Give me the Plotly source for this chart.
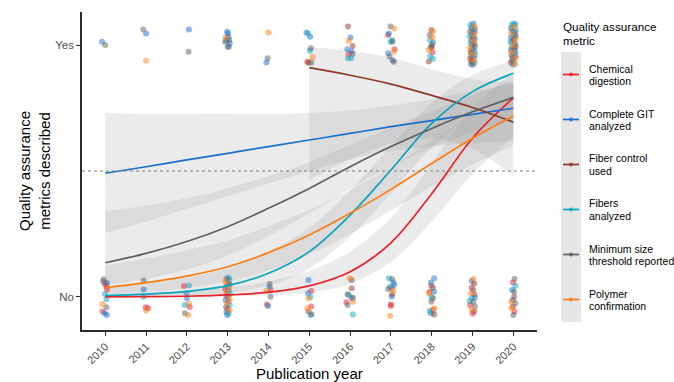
import plotly.graph_objects as go

# ---------------- data ----------------
YEARS = list(range(2010, 2021))
YEAR_LABELS = [str(y) for y in YEARS]
OUTCOME_VALUES = [0, 1]
OUTCOME_LABELS = ["No", "Yes"]
THRESHOLD = 0.5

METRIC_NAMES = [
    "Chemical digestion",
    "Complete GIT analyzed",
    "Fiber control used",
    "Fibers analyzed",
    "Minimum size threshold reported",
    "Polymer confirmation",
]
METRIC_CODES = ["C", "G", "F", "A", "M", "P"]
LEGEND_LINES = [
    ["Chemical", "digestion"],
    ["Complete GIT", "analyzed"],
    ["Fiber control", "used"],
    ["Fibers", "analyzed"],
    ["Minimum size", "threshold reported"],
    ["Polymer", "confirmation"],
]
COLORS = ["#e8222a", "#1a6fce", "#8b3a2a", "#0aa4bf", "#5f5f5f", "#fb7d12"]

# fitted probability of a metric being described, with confidence limits
fit_chem = [0.0005, 0.0012, 0.003, 0.008, 0.019, 0.044, 0.100, 0.215, 0.410, 0.630, 0.790]
lo_chem = [0.0000, 0.0001, 0.0004, 0.0017, 0.0057, 0.018, 0.053, 0.140, 0.300, 0.488, 0.639]
hi_chem = [0.0067, 0.011, 0.020, 0.037, 0.062, 0.103, 0.180, 0.314, 0.529, 0.752, 0.888]

fit_git = [0.491, 0.517, 0.544, 0.570, 0.597, 0.623, 0.649, 0.676, 0.700, 0.725, 0.749]
lo_git = [0.255, 0.300, 0.350, 0.400, 0.450, 0.500, 0.546, 0.578, 0.598, 0.610, 0.620]
hi_git = [0.730, 0.725, 0.726, 0.727, 0.725, 0.730, 0.740, 0.760, 0.785, 0.816, 0.844]

years_fctrl = [2015, 2016, 2017, 2018, 2019, 2020]
fit_fctrl = [0.910, 0.880, 0.845, 0.800, 0.752, 0.694]
lo_fctrl = [0.465, 0.547, 0.610, 0.631, 0.589, 0.480]
hi_fctrl = [0.992, 0.978, 0.950, 0.904, 0.865, 0.848]

fit_fib = [0.006, 0.011, 0.022, 0.045, 0.094, 0.180, 0.325, 0.504, 0.689, 0.815, 0.888]
lo_fib = [0.0009, 0.0022, 0.006, 0.017, 0.046, 0.112, 0.240, 0.410, 0.593, 0.723, 0.805]
hi_fib = [0.039, 0.052, 0.076, 0.113, 0.180, 0.275, 0.423, 0.598, 0.771, 0.881, 0.938]

fit_size = [0.136, 0.173, 0.220, 0.279, 0.352, 0.431, 0.517, 0.597, 0.669, 0.735, 0.792]
lo_size = [0.046, 0.072, 0.109, 0.165, 0.242, 0.332, 0.430, 0.518, 0.592, 0.655, 0.707]
hi_size = [0.341, 0.363, 0.392, 0.431, 0.480, 0.535, 0.603, 0.671, 0.737, 0.802, 0.858]

fit_poly = [0.037, 0.057, 0.083, 0.120, 0.176, 0.246, 0.332, 0.427, 0.530, 0.630, 0.718]
lo_poly = [0.010, 0.020, 0.035, 0.061, 0.105, 0.168, 0.250, 0.342, 0.438, 0.525, 0.600]
hi_poly = [0.124, 0.153, 0.185, 0.224, 0.281, 0.345, 0.426, 0.516, 0.620, 0.723, 0.810]

FITS = {
    "C": (YEARS, fit_chem, lo_chem, hi_chem),
    "G": (YEARS, fit_git, lo_git, hi_git),
    "F": (years_fctrl, fit_fctrl, lo_fctrl, hi_fctrl),
    "A": (YEARS, fit_fib, lo_fib, hi_fib),
    "M": (YEARS, fit_size, lo_size, hi_size),
    "P": (YEARS, fit_poly, lo_poly, hi_poly),
}

# individual studies (jittered): (metric code, year offset, outcome offset)
studies_yes = {
    2010: [("G", -0.08, 0.013), ("M", 0.00, 0.000)],
    2011: [("M", -0.07, 0.062), ("G", 0.00, 0.046), ("P", 0.00, -0.062)],
    2012: [("G", 0.05, 0.062), ("M", 0.04, -0.027)],
    2013: [("G", -0.01, 0.053), ("G", 0.00, 0.046), ("G", 0.02, 0.033), ("G", -0.03, 0.020),
           ("G", 0.05, 0.007), ("G", 0.00, -0.007), ("M", -0.06, 0.013), ("M", 0.04, 0.020),
           ("M", 0.03, -0.007), ("P", -0.05, 0.030)],
    2014: [("P", 0.00, 0.050), ("M", -0.02, -0.053), ("G", -0.05, -0.069)],
    2015: [("G", -0.07, 0.050), ("A", -0.03, 0.046), ("G", 0.02, 0.033), ("M", 0.04, -0.013),
           ("A", 0.01, -0.023), ("C", -0.05, -0.066), ("P", 0.08, -0.049), ("M", 0.05, -0.069),
           ("F", -0.02, -0.070)],
    2016: [("F", -0.05, 0.073), ("G", 0.01, 0.030), ("P", -0.03, 0.017), ("F", 0.06, -0.004),
           ("G", -0.07, -0.017), ("G", 0.03, -0.025), ("C", -0.04, -0.037), ("A", -0.05, -0.053),
           ("A", 0.03, -0.053), ("M", 0.06, -0.035)],
    2017: [("M", -0.01, 0.073), ("P", 0.08, 0.066), ("G", -0.05, 0.046), ("C", -0.07, 0.040),
           ("A", -0.01, 0.013), ("A", 0.03, 0.020), ("M", 0.04, 0.013), ("C", 0.09, -0.017),
           ("P", 0.07, -0.027), ("G", -0.07, -0.033), ("M", -0.03, -0.046), ("G", 0.04, -0.060),
           ("M", 0.07, -0.066)],
    2018: [("F", -0.01, 0.060), ("P", 0.03, 0.053), ("M", -0.05, 0.040), ("P", 0.02, 0.030),
           ("A", -0.04, 0.020), ("G", 0.03, 0.010), ("M", 0.00, 0.000), ("C", 0.00, -0.010),
           ("M", -0.02, -0.007), ("P", -0.07, -0.020), ("C", 0.02, -0.030), ("A", -0.04, -0.045),
           ("A", 0.03, -0.055), ("F", -0.07, -0.065)],
    2019: [("G", 0.02, 0.085), ("A", -0.05, 0.080), ("P", 0.04, 0.075), ("G", -0.03, 0.070),
           ("M", 0.06, 0.065), ("A", 0.00, 0.060), ("C", -0.06, 0.055), ("F", 0.05, 0.050),
           ("G", -0.02, 0.045), ("P", 0.03, 0.040), ("A", -0.07, 0.035), ("M", 0.01, 0.030),
           ("G", 0.06, 0.025), ("C", -0.03, 0.020), ("P", 0.02, 0.015), ("A", -0.05, 0.010),
           ("F", 0.04, 0.005), ("G", -0.01, 0.000), ("M", 0.06, -0.005), ("P", -0.06, -0.010),
           ("A", 0.02, -0.015), ("C", -0.02, -0.020), ("G", 0.05, -0.025), ("F", -0.05, -0.030),
           ("P", 0.01, -0.035), ("A", 0.06, -0.040), ("M", -0.03, -0.045), ("G", 0.03, -0.050),
           ("C", -0.06, -0.055), ("P", 0.04, -0.060), ("F", -0.02, -0.065), ("A", 0.05, -0.070),
           ("G", -0.04, -0.075), ("M", 0.01, -0.078)],
    2020: [("A", 0.00, 0.085), ("G", 0.05, 0.082), ("A", -0.04, 0.078), ("P", 0.03, 0.072),
           ("M", -0.06, 0.066), ("A", 0.06, 0.060), ("G", -0.02, 0.055), ("C", 0.04, 0.050),
           ("P", -0.05, 0.045), ("A", 0.02, 0.040), ("F", 0.06, 0.035), ("G", -0.06, 0.030),
           ("M", 0.01, 0.025), ("P", 0.05, 0.020), ("C", -0.03, 0.015), ("A", -0.07, 0.010),
           ("G", 0.04, 0.005), ("P", -0.01, 0.000), ("F", 0.06, -0.005), ("A", -0.04, -0.010),
           ("C", 0.02, -0.015), ("M", -0.06, -0.020), ("G", 0.05, -0.025), ("P", -0.02, -0.030),
           ("A", 0.03, -0.035), ("F", -0.05, -0.040), ("C", 0.06, -0.045), ("G", -0.01, -0.050),
           ("P", 0.04, -0.055), ("M", -0.04, -0.060), ("A", 0.01, -0.065), ("C", -0.06, -0.070),
           ("P", 0.05, -0.075), ("G", 0.00, -0.078)],
}

studies_no = {
    2010: [("M", -0.04, 0.070), ("M", -0.05, 0.061), ("G", 0.04, 0.057), ("C", -0.01, 0.052),
           ("C", 0.03, 0.044), ("C", 0.04, 0.030), ("A", -0.01, 0.012), ("A", 0.03, -0.009),
           ("P", -0.07, -0.028), ("M", 0.03, -0.041), ("C", -0.07, -0.058), ("G", -0.01, -0.065),
           ("G", 0.04, -0.071)],
    2011: [("M", -0.06, 0.065), ("G", -0.06, 0.030), ("A", -0.06, 0.001), ("C", -0.01, -0.041),
           ("P", 0.00, -0.054), ("C", 0.05, -0.045)],
    2012: [("C", -0.07, 0.044), ("A", 0.05, 0.046), ("G", -0.01, 0.015), ("G", 0.00, -0.005),
           ("A", -0.05, -0.032), ("P", 0.05, -0.027), ("C", 0.07, -0.040), ("M", -0.05, -0.065),
           ("P", 0.03, -0.071)],
    2013: [("A", 0.02, 0.077), ("M", -0.03, 0.072), ("A", 0.04, 0.066), ("P", -0.05, 0.060),
           ("C", 0.01, 0.055), ("M", 0.05, 0.050), ("A", -0.02, 0.044), ("P", 0.03, 0.038),
           ("C", -0.06, 0.032), ("G", 0.02, 0.026), ("P", -0.02, 0.020), ("A", 0.05, 0.014),
           ("C", -0.04, 0.008), ("M", 0.00, 0.002), ("P", 0.04, -0.005), ("G", -0.05, -0.012),
           ("C", 0.02, -0.018), ("P", -0.02, -0.025), ("A", 0.05, -0.032), ("M", -0.04, -0.040),
           ("C", 0.00, -0.047), ("P", 0.04, -0.054), ("G", -0.03, -0.060), ("A", 0.02, -0.066),
           ("G", -0.01, -0.071)],
    2014: [("M", 0.03, 0.052), ("A", 0.02, 0.040), ("P", -0.05, 0.025), ("C", 0.05, 0.030),
           ("M", 0.05, 0.001), ("G", -0.01, -0.036), ("C", -0.04, -0.030)],
    2015: [("G", -0.02, 0.067), ("C", 0.05, 0.024), ("G", -0.03, 0.015), ("P", -0.02, -0.005),
           ("A", 0.03, 0.000), ("P", -0.05, -0.045), ("C", 0.05, -0.038), ("F", -0.02, -0.058),
           ("A", 0.03, -0.071), ("M", 0.06, -0.068)],
    2016: [("P", -0.01, 0.074), ("M", 0.04, 0.067), ("F", 0.04, 0.035), ("F", -0.06, 0.011),
           ("A", -0.03, 0.008), ("M", 0.07, -0.003), ("G", 0.04, -0.005), ("P", 0.07, -0.019),
           ("C", -0.09, -0.021), ("M", -0.06, -0.032), ("A", 0.07, -0.069)],
    2017: [("A", -0.05, 0.074), ("M", 0.03, 0.071), ("G", 0.06, 0.058), ("G", 0.08, 0.048),
           ("A", -0.02, 0.041), ("M", -0.07, 0.032), ("C", 0.02, 0.036), ("P", 0.06, 0.024),
           ("F", 0.03, 0.011), ("G", 0.02, 0.001), ("C", 0.00, -0.029), ("C", 0.00, -0.036),
           ("P", -0.02, -0.074)],
    2018: [("G", 0.06, 0.074), ("G", -0.02, 0.058), ("C", -0.01, 0.045), ("M", 0.03, 0.037),
           ("C", -0.05, 0.021), ("G", 0.06, 0.021), ("P", -0.07, 0.015), ("A", -0.01, 0.001),
           ("F", 0.03, -0.005), ("M", -0.01, -0.019), ("A", -0.05, -0.056), ("C", 0.03, -0.052),
           ("P", 0.06, -0.045), ("G", -0.02, -0.065), ("F", 0.06, -0.069)],
    2019: [("P", 0.02, 0.071), ("G", -0.02, 0.063), ("F", 0.04, 0.054), ("C", -0.02, 0.037),
           ("M", 0.02, 0.028), ("P", -0.04, 0.015), ("C", 0.04, 0.011), ("A", -0.02, -0.005),
           ("G", 0.06, -0.001), ("A", -0.07, -0.016), ("M", 0.02, -0.019), ("C", -0.06, -0.032),
           ("M", 0.06, -0.038), ("P", -0.02, -0.051), ("F", 0.04, -0.058), ("C", 0.00, -0.066)],
    2020: [("M", 0.03, 0.071), ("C", -0.01, 0.058), ("A", 0.05, 0.045), ("G", -0.03, 0.028),
           ("M", 0.02, 0.021), ("F", 0.02, 0.001), ("G", -0.01, -0.012), ("P", -0.05, -0.019),
           ("M", 0.05, -0.025), ("F", -0.01, -0.038), ("P", -0.05, -0.045), ("C", 0.03, -0.058),
           ("M", 0.00, -0.071)],
}

# ---------------- layout geometry (pixels) ----------------
W, H = 674, 382
ML, MR, MT, MB = 82, 137, 12, 52
PW, PH = W - ML - MR, H - MT - MB


def px_x(px):
    return (px - ML) / PW


def px_y(py):
    return (H - MB - py) / PH


FONT = "Liberation Sans, Arial, Helvetica, sans-serif"
BAND_FILL = "rgba(153,153,153,0.2)"

fig = go.Figure()

# confidence ribbons
for code in METRIC_CODES:
    xs, fit, lo, hi = FITS[code]
    fig.add_trace(go.Scatter(x=xs, y=lo, mode="lines", line=dict(width=0, shape="spline"),
                             hoverinfo="skip", showlegend=False))
    fig.add_trace(go.Scatter(x=xs, y=hi, mode="lines", line=dict(width=0, shape="spline"),
                             fill="tonexty", fillcolor=BAND_FILL,
                             hoverinfo="skip", showlegend=False))

# jittered study points
for code, color, name in zip(METRIC_CODES, COLORS, METRIC_NAMES):
    px_list, py_list = [], []
    for outcome, table in ((1, studies_yes), (0, studies_no)):
        for year, pts in table.items():
            for c, dx, dy in pts:
                if c == code:
                    px_list.append(year + dx)
                    py_list.append(outcome + dy)
    fig.add_trace(go.Scatter(x=px_list, y=py_list, mode="markers", name=name,
                             marker=dict(size=6, color=color, opacity=0.5, line=dict(width=0)),
                             showlegend=False))

# fitted curves
for code, color, name in zip(METRIC_CODES, COLORS, METRIC_NAMES):
    xs, fit, lo, hi = FITS[code]
    fig.add_trace(go.Scatter(x=xs, y=fit, mode="lines", name=name,
                             line=dict(color=color, width=1.7, shape="spline"),
                             showlegend=False))

# ---------------- shapes: threshold line + hand-drawn legend ----------------
KEY_TOP, KEY_H = 52, 45
shapes = [
    dict(type="line", xref="paper", yref="y", x0=0, x1=1, y0=THRESHOLD, y1=THRESHOLD,
         line=dict(color="#808080", width=1.1, dash="dot")),
    dict(type="rect", xref="paper", yref="paper",
         x0=px_x(561), x1=px_x(581),
         y0=px_y(KEY_TOP + KEY_H * len(COLORS)), y1=px_y(KEY_TOP),
         fillcolor="#e6e6e6", line=dict(width=0)),
]
annotations = []
for i, (color, lines) in enumerate(zip(COLORS, LEGEND_LINES)):
    cy = KEY_TOP + i * KEY_H + KEY_H / 2
    shapes.append(dict(type="line", xref="paper", yref="paper",
                       x0=px_x(563), x1=px_x(579), y0=px_y(cy), y1=px_y(cy),
                       line=dict(color=color, width=1.7)))
    shapes.append(dict(type="circle", xref="paper", yref="paper",
                       x0=px_x(569), x1=px_x(573), y0=px_y(cy + 2), y1=px_y(cy - 2),
                       fillcolor=color, line=dict(width=0), opacity=0.8))
    for j, txt in enumerate(lines):
        annotations.append(dict(text=txt, xref="paper", yref="paper",
                                x=px_x(587), y=px_y(cy - 6 + j * 12.5),
                                xanchor="left", yanchor="middle", showarrow=False,
                                font=dict(family=FONT, size=10.5, color="#000000")))

for j, txt in enumerate(["Quality assurance", "metric"]):
    annotations.append(dict(text=txt, xref="paper", yref="paper",
                            x=px_x(561), y=px_y(27 + j * 14),
                            xanchor="left", yanchor="middle", showarrow=False,
                            font=dict(family=FONT, size=11.7, color="#000000")))

# axis titles
annotations.append(dict(text="Quality assurance<br>metrics described", xref="paper", yref="paper",
                        x=px_x(34), y=0.5, xanchor="center", yanchor="middle", textangle=-90,
                        showarrow=False, font=dict(family=FONT, size=15, color="#000000")))
annotations.append(dict(text="Publication year", xref="paper", yref="paper",
                        x=0.5, y=px_y(363), xanchor="center", yanchor="top",
                        showarrow=False, font=dict(family=FONT, size=15, color="#000000")))

axis_common = dict(showgrid=False, zeroline=False, showline=True, linecolor="#2b2b2b",
                   linewidth=1.6, ticks="outside", ticklen=4, tickcolor="#2b2b2b", tickwidth=1.2)

fig.update_layout(
    width=W, height=H,
    margin=dict(l=ML, r=MR, t=MT, b=MB, autoexpand=False),
    paper_bgcolor="white", plot_bgcolor="white",
    font=dict(family=FONT),
    showlegend=False,
    shapes=shapes,
    annotations=annotations,
    xaxis=dict(range=[2009.43, 2020.58], tickmode="array", tickvals=YEARS, ticktext=YEAR_LABELS,
               tickangle=-45, tickfont=dict(size=11, color="#4d4d4d"), **axis_common),
    yaxis=dict(range=[-0.131, 1.131], tickmode="array", tickvals=OUTCOME_VALUES,
               ticktext=OUTCOME_LABELS, tickfont=dict(size=11.5, color="#4d4d4d"), **axis_common),
)

fig.write_html("out.html")
